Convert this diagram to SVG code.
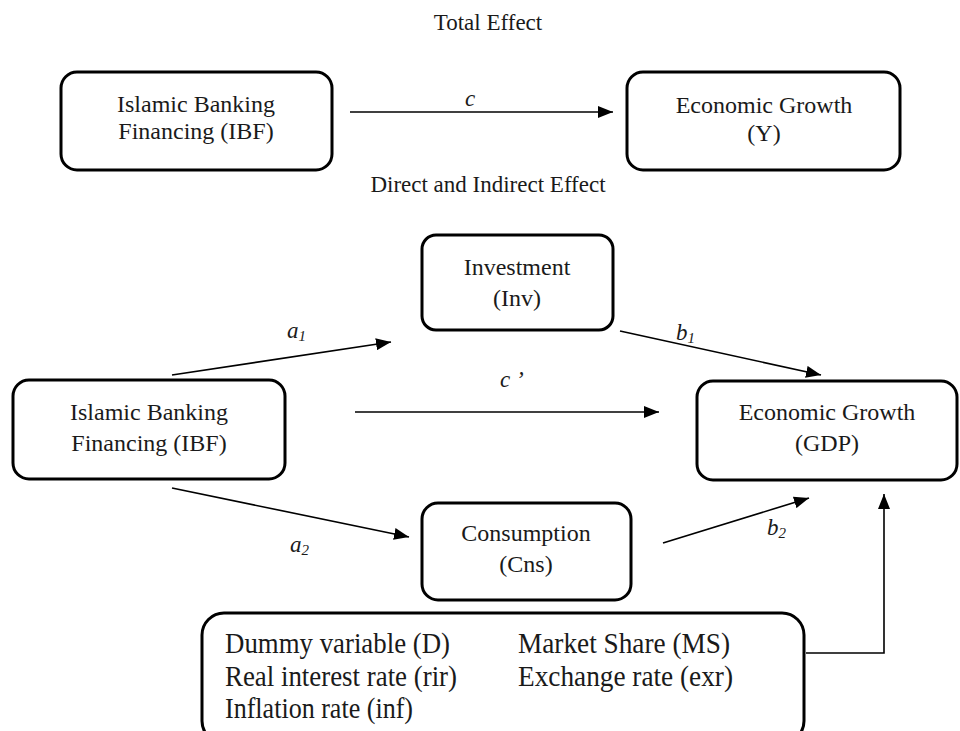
<svg xmlns="http://www.w3.org/2000/svg" width="960" height="731" viewBox="0 0 960 731">
<defs>
<style>
.box{fill:#fff;stroke:#000;stroke-width:3}
.t{font-family:"Liberation Serif","Times New Roman",serif;font-size:24px;fill:#1a1a1a;text-anchor:middle}
.h{font-family:"Liberation Serif","Times New Roman",serif;font-size:23px;fill:#1a1a1a;text-anchor:middle}
.lab{font-family:"Liberation Serif","Times New Roman",serif;font-size:23px;font-style:italic;fill:#1a1a1a}
.big{font-family:"Liberation Serif","Times New Roman",serif;font-size:29px;fill:#1a1a1a}
.ln{fill:none;stroke:#000;stroke-width:1.6}
</style>
<marker id="ah" viewBox="0 0 15 12" refX="15" refY="6" markerWidth="15" markerHeight="12" markerUnits="userSpaceOnUse" orient="auto">
<path d="M0,0 L15,6 L0,12 z" fill="#000"/>
</marker>
</defs>
<rect width="960" height="731" fill="#fff"/>
<text class="h" x="488" y="30">Total Effect</text>
<text class="h" x="488" y="192">Direct and Indirect Effect</text>

<g id="connectors">
<line class="ln" x1="350" y1="112" x2="613" y2="112" marker-end="url(#ah)"/>
<line class="ln" x1="172" y1="375" x2="391" y2="342" marker-end="url(#ah)"/>
<line class="ln" x1="620" y1="331" x2="821" y2="375" marker-end="url(#ah)"/>
<line class="ln" x1="355" y1="412" x2="659" y2="412" marker-end="url(#ah)"/>
<line class="ln" x1="172" y1="488" x2="409" y2="537" marker-end="url(#ah)"/>
<line class="ln" x1="663" y1="543" x2="809" y2="498" marker-end="url(#ah)"/>
<polyline class="ln" points="806,653 884,653 884,494" marker-end="url(#ah)"/>
<text class="lab" x="465" y="106">c</text>
<text class="lab" x="287" y="338">a<tspan font-size="15" dy="3">1</tspan></text>
<text class="lab" x="676" y="340">b<tspan font-size="15" dy="3">1</tspan></text>
<text class="lab" x="500" y="387">c ’</text>
<text class="lab" x="290" y="552">a<tspan font-size="15" dy="3">2</tspan></text>
<text class="lab" x="767" y="535">b<tspan font-size="15" dy="3">2</tspan></text>
</g>

<g id="ibf-top">
<rect class="box" x="61" y="72" width="271" height="98" rx="16"/>
<text class="t" x="196" y="112">Islamic Banking</text>
<text class="t" x="196" y="139">Financing (IBF)</text>
</g>
<g id="y-top">
<rect class="box" x="627" y="72" width="273" height="98" rx="16"/>
<text class="t" x="764" y="113">Economic Growth</text>
<text class="t" x="764" y="141">(Y)</text>
</g>
<g id="investment">
<rect class="box" x="422" y="235" width="191" height="95" rx="14"/>
<text class="t" x="517" y="275">Investment</text>
<text class="t" x="517" y="306">(Inv)</text>
</g>
<g id="ibf">
<rect class="box" x="13" y="380" width="272" height="99" rx="16"/>
<text class="t" x="149" y="420">Islamic Banking</text>
<text class="t" x="149" y="451">Financing (IBF)</text>
</g>
<g id="gdp">
<rect class="box" x="697" y="381" width="260" height="99" rx="16"/>
<text class="t" x="827" y="420">Economic Growth</text>
<text class="t" x="827" y="451">(GDP)</text>
</g>
<g id="consumption">
<rect class="box" x="422" y="503" width="209" height="97" rx="16"/>
<text class="t" x="526" y="541">Consumption</text>
<text class="t" x="526" y="572">(Cns)</text>
</g>
<g id="controls">
<rect class="box" x="202" y="613" width="602" height="130" rx="22"/>
<text class="big" x="225" y="653" textLength="225" lengthAdjust="spacingAndGlyphs">Dummy variable (D)</text>
<text class="big" x="225" y="686" textLength="232" lengthAdjust="spacingAndGlyphs">Real interest rate (rir)</text>
<text class="big" x="225" y="718" textLength="188" lengthAdjust="spacingAndGlyphs">Inflation rate (inf)</text>
<text class="big" x="518" y="653" textLength="212" lengthAdjust="spacingAndGlyphs">Market Share (MS)</text>
<text class="big" x="518" y="686" textLength="215" lengthAdjust="spacingAndGlyphs">Exchange rate (exr)</text>
</g>
</svg>
